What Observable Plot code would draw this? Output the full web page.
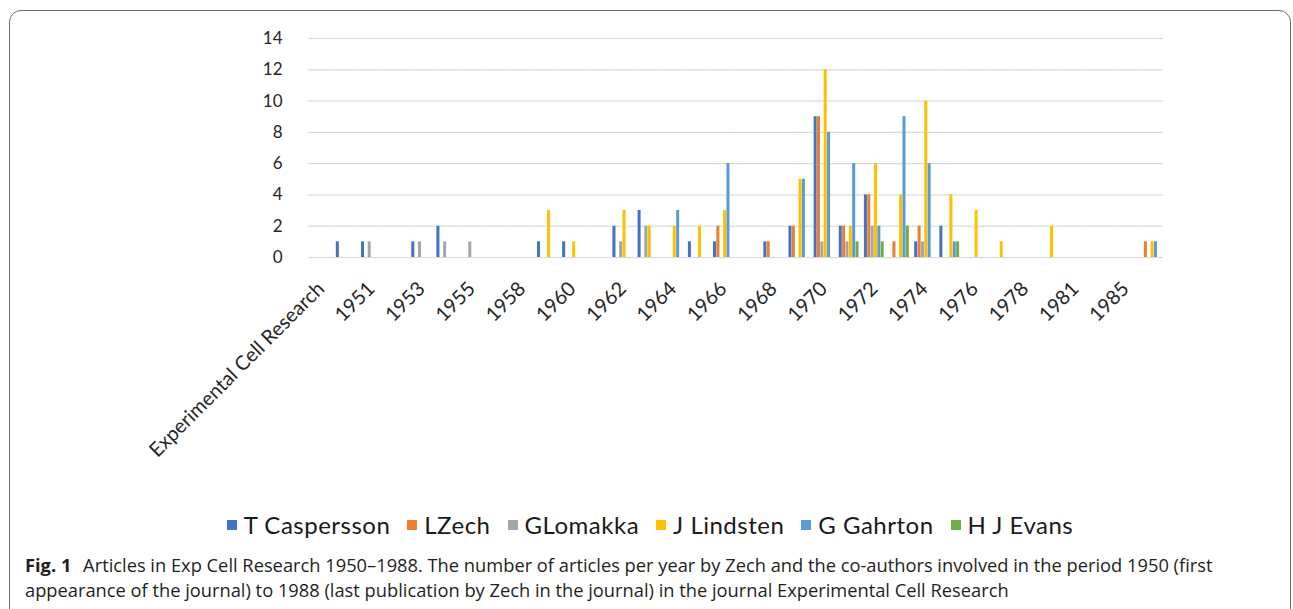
<!DOCTYPE html>
<html>
<head>
<meta charset="utf-8">
<script src="https://cdn.jsdelivr.net/npm/d3@7"></script>
<script src="https://cdn.jsdelivr.net/npm/@observablehq/plot@0.6"></script>
<style>
  html, body { margin: 0; padding: 0; background: #fff; }
  body { position: relative; width: 1293px; height: 609px; overflow: hidden; font-family: Lato, "Open Sans", sans-serif; }
  #frame { position: absolute; left: 9px; top: 10px; width: 1282px; height: 700px; box-sizing: border-box; border: 1px solid #6a6a6a; border-radius: 12px; }
  #chart { position: absolute; left: 0; top: 0; }
  #chart g[aria-label^="fx-axis"] { font-size: 20px; }
  #legend { position: absolute; left: 9px; width: 1282px; top: 510px; display: flex; justify-content: center; gap: 17px; font-family: Lato, sans-serif; font-size: 24px; letter-spacing: 0.5px; color: #1a1a1a; }
  #legend .item { display: flex; align-items: center; white-space: nowrap; }
  #legend svg { flex: none; margin-right: 7px; }
  #caption { position: absolute; left: 25px; top: 552px; font-family: "Open Sans", sans-serif; font-size: 18.3px; line-height: 25px; color: #231f20; white-space: nowrap; }
  #caption b { font-weight: 700; margin-right: 7px; }
</style>
</head>
<body>
<div id="frame"></div>
<div id="chart"></div>
<div id="legend"></div>
<div id="caption">
  <div><b>Fig. 1</b> Articles in Exp Cell Research 1950–1988. The number of articles per year by Zech and the co-authors involved in the period 1950 (first</div>
  <div>appearance of the journal) to 1988 (last publication by Zech in the journal) in the journal Experimental Cell Research</div>
</div>
<script>
// Categories (x axis)
const years = ["Experimental Cell Research","1950","1951","1952","1953","1954","1955","1957","1958","1959","1960","1961","1962","1963","1964","1965","1966","1967","1968","1969","1970","1971","1972","1973","1974","1975","1976","1977","1978","1980","1981","1983","1985","1988"];
// Tick labels shown (every other category)
const shownLabels = ["Experimental Cell Research","1951","1953","1955","1958","1960","1962","1964","1966","1968","1970","1972","1974","1976","1978","1981","1985"];
const yTicks = [0, 2, 4, 6, 8, 10, 12, 14];

// Series values, one per category above
//                  ECR 50 51 52 53 54 55 57 58 59 60 61 62 63 64 65 66 67 68 69 70 71 72 73 74 75 76 77 78 80 81 83 85 88
const caspersson = [0,  1, 1, 0, 1, 2, 0, 0, 0, 1, 1, 0, 2, 3, 0, 1, 1, 0, 1, 2, 9, 2, 4, 0, 1, 2, 0, 0, 0, 0, 0, 0, 0, 0];
const zech       = [0,  0, 0, 0, 0, 0, 0, 0, 0, 0, 0, 0, 0, 0, 0, 0, 2, 0, 1, 2, 9, 2, 4, 1, 2, 0, 0, 0, 0, 0, 0, 0, 0, 1];
const lomakka    = [0,  0, 1, 0, 1, 1, 1, 0, 0, 0, 0, 0, 1, 2, 0, 0, 0, 0, 0, 0, 1, 1, 2, 0, 1, 0, 0, 0, 0, 0, 0, 0, 0, 0];
const lindsten   = [0,  0, 0, 0, 0, 0, 0, 0, 0, 3, 1, 0, 3, 2, 2, 2, 3, 0, 0, 5,12, 2, 6, 4,10, 4, 3, 1, 0, 2, 0, 0, 0, 1];
const gahrton    = [0,  0, 0, 0, 0, 0, 0, 0, 0, 0, 0, 0, 0, 0, 3, 0, 6, 0, 0, 5, 8, 6, 2, 9, 6, 1, 0, 0, 0, 0, 0, 0, 0, 1];
const evans      = [0,  0, 0, 0, 0, 0, 0, 0, 0, 0, 0, 0, 0, 0, 0, 0, 0, 0, 0, 0, 0, 1, 1, 2, 0, 1, 0, 0, 0, 0, 0, 0, 0, 0];

const seriesNames = ["T Caspersson", "LZech", "GLomakka", "J Lindsten", "G Gahrton", "H J Evans"];
const seriesValues = [caspersson, zech, lomakka, lindsten, gahrton, evans];
const seriesColors = ["#4472C4", "#ED7D31", "#A5A5A5", "#FFC000", "#5B9BD5", "#70AD47"];

const rows = years.flatMap((year, i) => seriesNames.map((name, s) => ({year, series: name, value: seriesValues[s][i]})));
const shown = new Set(shownLabels);

const chart = Plot.plot({
  width: 1293,
  height: 470,
  marginLeft: 308,
  marginRight: 130,
  marginTop: 38,
  marginBottom: 213,
  style: {fontFamily: "Lato, sans-serif", fontSize: "17px", color: "#262626", background: "transparent"},
  facet: {data: rows, x: "year"},
  fx: {domain: years, padding: 0, round: false, label: null, tickSize: 0, tickPadding: 28, tickRotate: -45, tickFormat: d => shown.has(d) ? d : ""},
  x: {domain: seriesNames, paddingInner: 0.1, paddingOuter: 0.8, round: false, axis: null},
  y: {domain: [0, 14], ticks: yTicks, tickSize: 0, tickPadding: 26, label: null},
  color: {domain: seriesNames, range: seriesColors},
  marks: [
    Plot.ruleY(yTicks, {stroke: "#d9d9d9", strokeWidth: 1.2}),
    Plot.barY(rows, {x: "series", y: "value", fill: "series"})
  ]
});
document.getElementById("chart").appendChild(chart);

const NS = "http://www.w3.org/2000/svg";
const legend = document.getElementById("legend");
seriesNames.forEach((name, i) => {
  const item = document.createElement("div");
  item.className = "item";
  const sw = document.createElementNS(NS, "svg");
  sw.setAttribute("width", "10");
  sw.setAttribute("height", "10");
  const r = document.createElementNS(NS, "rect");
  r.setAttribute("width", "10");
  r.setAttribute("height", "10");
  r.setAttribute("fill", seriesColors[i]);
  sw.appendChild(r);
  const tx = document.createElement("span");
  tx.textContent = name;
  item.appendChild(sw);
  item.appendChild(tx);
  legend.appendChild(item);
});
</script>
</body>
</html>
